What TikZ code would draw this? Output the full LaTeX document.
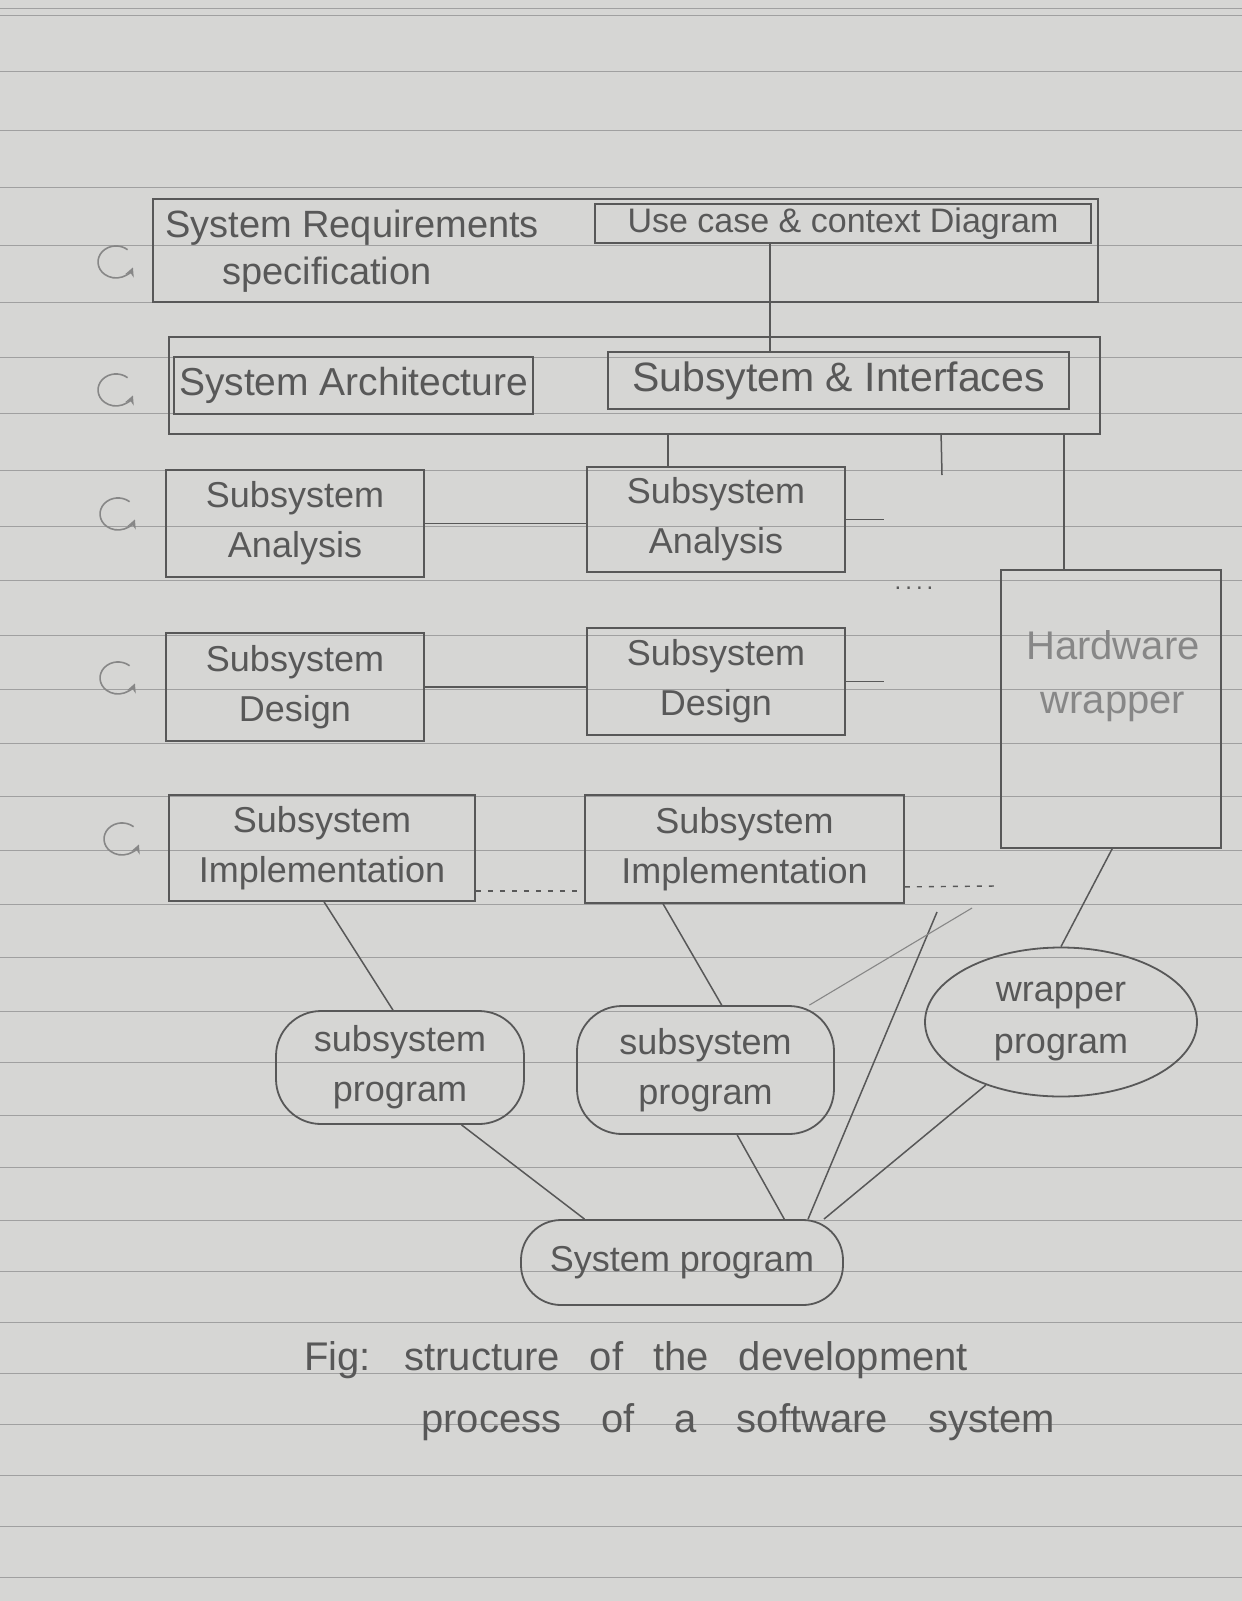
\documentclass[tikz,border=0pt]{standalone}
\usepackage{fontspec}
\setmainfont{Liberation Sans}
\usetikzlibrary{shapes.geometric,arrows.meta}
\definecolor{paper}{RGB}{214,214,212}
\definecolor{ruleline}{RGB}{160,160,160}
\definecolor{pencil}{RGB}{88,88,88}
\definecolor{faint}{RGB}{135,135,135}
\begin{document}
\begin{tikzpicture}[x=1pt,y=-1pt,
  pen/.style={draw=pencil,line width=1.8pt},
  box/.style={pen,rectangle,inner sep=0pt,text=pencil,align=center,
    font=\fontsize{36}{50}\selectfont},
  blob/.style={pen,rectangle,rounded corners=45pt,inner sep=0pt,text=pencil,align=center,
    font=\fontsize{36}{50}\selectfont},
  oval/.style={pen,ellipse,inner sep=0pt,text=pencil,align=center,
    font=\fontsize{36}{52}\selectfont},
  lbl/.style={inner sep=0pt,text=pencil,font=\fontsize{36}{50}\selectfont},
  conn/.style={draw=pencil,line width=1.5pt},
  faintconn/.style={draw=faint,line width=1.1pt},
  dotline/.style={draw=pencil,line width=1.4pt,dash pattern=on 5pt off 7pt},
  cyc/.pic={\draw[draw=faint,line width=1.6pt,-{Stealth[length=9pt,width=9pt]}]
     (11.6,-12.3) arc[start angle=-50,end angle=-340,x radius=18,y radius=16];}
]
% paper
\path[fill=paper] (0,0) rectangle (1242,1601);
\useasboundingbox (0,0) rectangle (1242,1601);
\foreach \yy in {8,15,71,130,187,245,302,357,413,470,526,580,635,689,743,796,850,904,957,1011,1062,1115,1167,1220,1271,1322,1373,1424,1475,1526,1577}
  \draw[ruleline,line width=0.9pt] (0,\yy) -- (1242,\yy);

% left cycle icons
\pic at (116,262) {cyc};
\pic at (116,390) {cyc};
\pic at (118,514) {cyc};
\pic at (118,678) {cyc};
\pic at (122,839) {cyc};

% requirements
\node[box,minimum width=945pt,minimum height=103pt] (sreq) at (625.5,250.5) {};
\node[lbl,anchor=base,font=\fontsize{38}{40}\selectfont] (sreqA) at (352,237) {System Requirements};
\node[lbl,anchor=base,font=\fontsize{38}{40}\selectfont] (sreqB) at (327,284) {specification};
\node[box,minimum width=496pt,minimum height=39pt,font=\fontsize{34}{40}\selectfont] (usecase) at (843,223.5) {Use case \& context Diagram};

% architecture
\node[box,minimum width=931pt,minimum height=97pt] (arch) at (634.5,385.5) {};
\node[box,minimum width=359pt,minimum height=57pt,font=\fontsize{39}{40}\selectfont] (sysarch) at (353.5,385.5) {System Architecture};
\node[box,minimum width=461pt,minimum height=57pt,font=\fontsize{41}{44}\selectfont] (subint) at (838.5,380.5) {Subsytem \& Interfaces};

% analysis
\node[box,minimum width=258pt,minimum height=107pt] (an1) at (295,523.5) {Subsystem\\Analysis};
\node[box,minimum width=258pt,minimum height=105pt] (an2) at (716,519.5) {Subsystem\\Analysis};
\node[lbl,font=\fontsize{24}{24}\selectfont] (dots) at (914,588) {.\,.\,.\,.};

% design
\node[box,minimum width=258pt,minimum height=108pt] (de1) at (295,687) {Subsystem\\Design};
\node[box,minimum width=258pt,minimum height=107pt] (de2) at (716,681.5) {Subsystem\\Design};

% hardware wrapper
\node[box,minimum width=220pt,minimum height=278pt] (hw) at (1111,709) {};
\node[lbl,text=faint,align=center,font=\fontsize{40}{54}\selectfont] (hwtext) at (1113,676) {Hardware\\wrapper};

% implementation
\node[box,minimum width=306pt,minimum height=106pt] (im1) at (322,848) {Subsystem\\Implementation};
\node[box,minimum width=319pt,minimum height=108pt] (im2) at (744.5,849) {Subsystem\\Implementation};

% programs
\node[blob,minimum width=248pt,minimum height=113pt] (sp1) at (400,1067.5) {subsystem\\program};
\node[blob,minimum width=257pt,minimum height=128pt] (sp2) at (705.5,1070) {subsystem\\program};
\node[oval,minimum width=272pt,minimum height=149pt] (wrap) at (1061,1022) {wrapper\\program};
\node[blob,rounded corners=40pt,minimum width=322pt,minimum height=85pt] (sysp) at (682,1262.5) {System program};

% caption
\node[lbl,font=\fontsize{40}{44}\selectfont] (cap1) at (636,1360) {\spaceskip=30pt\relax Fig: structure of the development};
\node[lbl,font=\fontsize{40}{44}\selectfont] (cap2) at (738,1422) {\spaceskip=40pt\relax process of a software system};

% connectors
\coordinate (stubA) at (942,475);
\coordinate (stubB) at (884,519.5);
\coordinate (stubC) at (884,681.5);
\coordinate (stubD) at (996,886);
\coordinate (freeA) at (937,912);
\coordinate (freeB) at (972,908);

\draw[conn] ([xshift=176pt]usecase.south west) -- ([xshift=163pt]subint.north west);
\draw[conn] ([xshift=500pt]arch.south west) -- ([xshift=82pt]an2.north west);
\draw[conn] ([xshift=773pt]arch.south west) -- (stubA);
\draw[conn] ([xshift=896pt]arch.south west) -- ([xshift=64pt]hw.north west);
\draw[conn] (an1.east) -- (an1.east -| an2.west);
\draw[conn] (an2.east) -- (stubB);
\draw[conn] (de1.east) -- (de1.east -| de2.west);
\draw[conn] (de2.east) -- (stubC);
\draw[dotline] ([yshift=11pt]im1.south east) -- ([yshift=11pt]im1.south east -| im2.west);
\draw[dotline] ([yshift=17pt]im2.south east) -- (stubD);
\draw[conn] ([xshift=156pt]im1.south west) -- (sp1.97);
\draw[conn] ([xshift=79pt]im2.south west) -- (sp2.76);
\draw[conn] ([xshift=112pt]hw.south west) -- (wrap.north);
\draw[conn] (freeA) -- (sysp.19);
\draw[faintconn] (freeB) -- (sp2.32);
\draw[conn] (sp1.-43) -- (sysp.156);
\draw[conn] (sp2.-64) -- (sysp.23);
\draw[conn] (wrap.220) -- (sysp.17);
\end{tikzpicture}
\end{document}
